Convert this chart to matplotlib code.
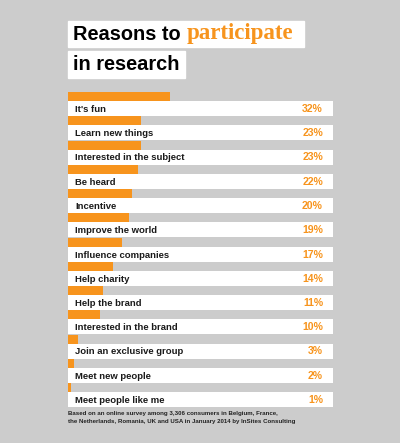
import matplotlib.pyplot as plt
from matplotlib.patches import Rectangle

# === Data ===
reasons = ["It's fun", "Learn new things", "Interested in the subject", "Be heard",
           "Incentive", "Improve the world", "Influence companies", "Help charity",
           "Help the brand", "Interested in the brand", "Join an exclusive group",
           "Meet new people", "Meet people like me"]
shares = [32, 23, 23, 22, 20, 19, 17, 14, 11, 10, 3, 2, 1]

ORANGE = '#f7941d'
GREY = '#cccccc'
W, H = 400, 443

fig = plt.figure(figsize=(W / 100, H / 100), dpi=100, facecolor=GREY)

# === Title boxes (pixel layout) ===
def px_rect(x0, y0, x1, y1, color):
    fig.patches.append(Rectangle((x0 / W, 1 - y1 / H), (x1 - x0) / W, (y1 - y0) / H,
                                 transform=fig.transFigure, color=color, zorder=0))

px_rect(68, 21, 304, 47, 'white')
px_rect(68, 51, 185, 78, 'white')

t1 = fig.text(73 / W, 1 - 39.5 / H, "Reasons to ", fontsize=14.4, fontweight='bold',
              family='Liberation Sans', color='black', va='baseline')
fig.canvas.draw()
bb = t1.get_window_extent()
fig.text(bb.x1 / W + 0.002, 1 - 39.5 / H, "participate", fontsize=16.5, fontweight='bold',
         family='Liberation Serif', color=ORANGE, va='baseline')
fig.text(73 / W, 1 - 69.5 / H, "in research", fontsize=14.4, fontweight='bold',
         family='Liberation Sans', color='black', va='baseline')

# === Bars ===
pitch = 24.25
top = 92
n = len(reasons)
ax_left, ax_width = 68, 265
ax = fig.add_axes([ax_left / W, 1 - (top + pitch * n) / H, ax_width / W, pitch * n / H])
ax.set_xlim(0, ax_width / 3.19)
ax.set_ylim(n - 0.5, -0.5)
ax.axis('off')

rows = list(range(n))
oh = 9 / pitch
wh = 15 / pitch
ax.barh([r - 0.5 + oh / 2 for r in rows], shares, height=oh, color=ORANGE, linewidth=0)
ax.barh([r - 0.5 + oh + wh / 2 for r in rows], [ax_width / 3.19] * n, height=wh,
        color='white', linewidth=0)

for r, name, val in zip(rows, reasons, shares):
    yb = r - 0.5 + (9 + 11) / pitch
    ax.text(7 / 3.19, yb, name, fontsize=6.8, fontweight='bold', family='Liberation Sans',
            color='#1a1a1a', va='baseline', ha='left')
    ax.text((ax_width - 10) / 3.19, yb, f"{val}%", fontsize=7.6, fontweight='bold',
            family='Liberation Sans', color=ORANGE, va='baseline', ha='right')

# === Footnote ===
fig.text(68 / W, 1 - 413 / H, "Based on an online survey among 3,306 consumers in Belgium, France,",
         fontsize=4.45, fontweight='bold', family='Liberation Sans', color='#222222', va='center')
fig.text(68 / W, 1 - 422 / H,
         "the Netherlands, Romania, UK and USA in January 2014 by InSites Consulting",
         fontsize=4.45, fontweight='bold', family='Liberation Sans', color='#222222', va='center')

fig.savefig('out.png', dpi=100, facecolor=GREY)
